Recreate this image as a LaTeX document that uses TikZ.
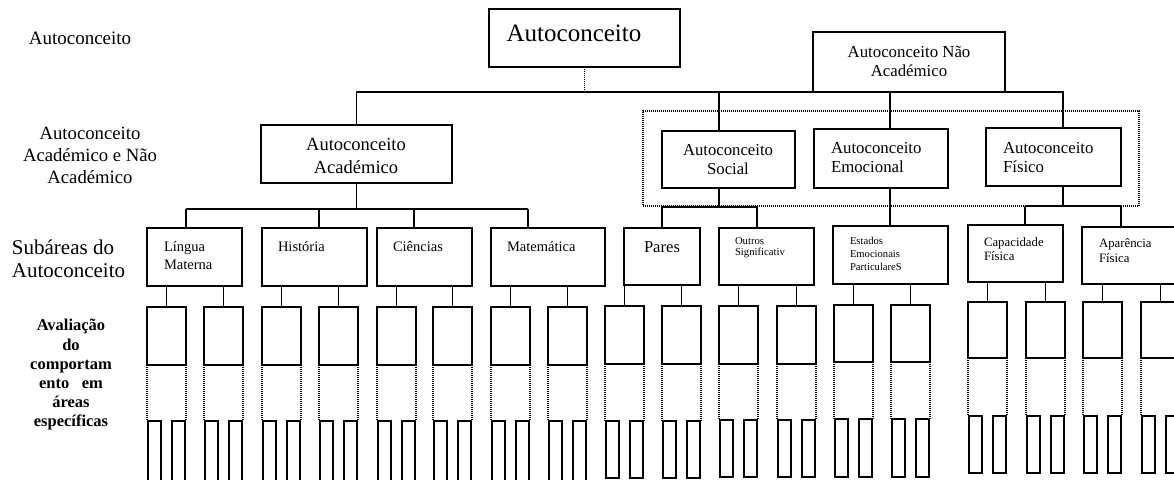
\documentclass[tikz,border=0pt]{standalone}
\usepackage{fontspec}
\setmainfont{Liberation Serif}
\usetikzlibrary{fit,calc}
\newcommand{\fsz}[2]{\fontsize{#1}{#2}\selectfont}
\tikzset{
  box/.style={draw, line width=1.2pt, inner sep=0pt, outer sep=0pt},
  dotbox/.style={draw, line width=1.1pt, dash pattern=on 1pt off 1pt, inner sep=0pt, outer sep=0pt},
  conn/.style={line width=1.2pt},
  dotline/.style={line width=1.1pt, dash pattern=on 1pt off 1pt},
  txt/.style={inner sep=0pt, outer sep=0pt},
}
\begin{document}
\begin{tikzpicture}[x=1pt,y=-1pt]
\fill[white] (0,0) rectangle (1174,479);
\useasboundingbox (0,0) rectangle (1174,479);
\clip (0,0) rectangle (1174,479);

% left-hand labels
\node[txt, font=\fsz{19}{22}] (lab1) at (80,38) {Autoconceito};
\node[txt, font=\fsz{18.7}{22}, align=center] (lab2) at (90,155) {Autoconceito\\Académico e Não\\Académico};
\node[txt, font=\fsz{21}{23}, align=left, anchor=west] (lab3) at (12,258.5) {Subáreas do\\Autoconceito};
\node[txt, font=\fsz{16.5}{19.2}\bfseries, align=center] (lab4) at (71,375) {Avaliação\\do\\comportam\\ento\ \ \ em\\áreas\\específicas};

% level boxes
\node[box, fit={(489,9) (680,67)}] (top) {};
\node[txt, font=\fsz{25}{28}] (ttop) at (574,33) {Autoconceito};
\node[box, fit={(813,32) (1005,92)}] (nao) {};
\node[txt, font=\fsz{16.8}{19}, align=center] (tnao) at (909,61.5) {Autoconceito Não\\Académico};
\node[box, fit={(261,125) (452,183)}] (acad) {};
\node[txt, font=\fsz{18.5}{23}, align=center] (tacad) at (356,156) {Autoconceito\\Académico};
\node[dotbox, fit={(643,111) (1139,206)}] (grp) {};
\node[box, fit={(662,131) (795,188)}] (soc) {};
\node[txt, font=\fsz{16.7}{19}, align=center] (tsoc) at (728,159.5) {Autoconceito\\Social};
\node[box, fit={(814,129) (948,188)}] (emo) {};
\node[txt, font=\fsz{16.8}{19}, align=left, anchor=west] (temo) at (831,157.5) {Autoconceito\\Emocional};
\node[box, fit={(986,128) (1121,186)}] (fis) {};
\node[txt, font=\fsz{16.8}{19}, align=left, anchor=west] (tfis) at (1003,157.5) {Autoconceito\\Físico};

% connectors upper part
\draw[dotline] (top.south) -- (top.south |- nao.south);
\draw[conn] (acad.north) |- (nao.south west);
\coordinate (fisIn) at (1063,128);
\draw[conn] (nao.south east) -| (fisIn);
\coordinate (socIn) at (719,131);
\draw[conn] (socIn) -- (socIn |- nao.south);
\coordinate (emoIn) at (890,129);
\draw[conn] (emoIn) -- (emoIn |- nao.south);

% sub-area boxes
\node[box, fit={(147,228) (242,286)}] (lingua) {};
\node[box, fit={(262,228) (367,286)}] (historia) {};
\node[box, fit={(377,228) (472,286)}] (ciencias) {};
\node[box, fit={(491,228) (605,286)}] (matematica) {};
\node[box, fit={(624,228) (700,285)}] (pares) {};
\node[box, fit={(719,228) (814,285)}] (outros) {};
\node[box, fit={(833,226) (948,284)}] (estados) {};
\node[box, fit={(968,225) (1063,282)}] (capacidade) {};
\node[box, fit={(1082,227) (1190,284)}] (aparencia) {};

\node[txt, font=\fsz{14.5}{18}, align=left, anchor=west] (tlingua) at (164,256) {Língua\\Materna};
\node[txt, font=\fsz{14.5}{18}, anchor=west] (thist) at (278,247) {História};
\node[txt, font=\fsz{14.5}{18}, anchor=west] (tcien) at (393,247) {Ciências};
\node[txt, font=\fsz{14.5}{18}, anchor=west] (tmat) at (507,247) {Matemática};
\node[txt, font=\fsz{16.6}{19}, anchor=west] (tpares) at (644,247) {Pares};
\node[txt, font=\fsz{10.7}{11.5}, align=left, anchor=west] (toutros) at (735,247.5) {Outros\\Significativ};
\node[txt, font=\fsz{10.6}{13}, align=left, anchor=west] (testados) at (850,254) {Estados\\Emocionais\\ParticulareS};
\node[txt, font=\fsz{12.8}{14.5}, align=left, anchor=west] (tcap) at (984,249) {Capacidade\\Física};
\node[txt, font=\fsz{12.8}{15}, align=left, anchor=west] (tapa) at (1099,250.5) {Aparência\\Física};

% branches to sub-areas
\coordinate (abL) at (186,209);
\coordinate (abR) at (528,209);
\draw[conn] (acad.south) -- (acad.south |- abL);
\draw[conn] (abL) -- (abR);
\foreach \n/\x in {lingua/186, historia/319, ciencias/414, matematica/528}{
  \coordinate (d-\n) at (\x,228);
  \draw[conn] (d-\n) -- (d-\n |- abL);
}
\coordinate (socOut) at (719,188);
\coordinate (sbL) at (662,207);
\coordinate (sbR) at (757,207);
\draw[conn] (socOut) -- (socOut |- sbL);
\draw[conn] (sbL) -- (sbR);
\coordinate (d-pares) at (662,228);
\coordinate (d-outros) at (757,228);
\draw[conn] (d-pares) -- (sbL);
\draw[conn] (d-outros) -- (sbR);
\coordinate (emoOut) at (890,188);
\draw[conn] (emoOut) -- (emoOut |- estados.north);
\coordinate (fisOut) at (1063,186);
\coordinate (fbL) at (1025,206);
\coordinate (fbR) at (1121,206);
\draw[conn] (fisOut) -- (fisOut |- fbL);
\draw[conn] (fbL) -- (fbR);
\coordinate (d-cap) at (1025,225);
\coordinate (d-apa) at (1121,227);
\draw[conn] (d-cap) -- (fbL);
\draw[conn] (d-apa) -- (fbR);

% evaluation squares and specific areas
\foreach \n/\aa/\ab/\sy/\sb/\tt/\tb in {
  lingua/147/204/307/365/421/490,
  historia/262/319/307/365/421/490,
  ciencias/377/433/307/365/421/490,
  matematica/491/548/307/365/421/490,
  pares/605/662/306/364/421/478,
  outros/719/777/306/364/420/477,
  estados/834/891/305/362/419/477,
  capacidade/968/1026/302/358/416/473,
  aparencia/1083/1141/302/358/416/473}{
  \foreach \i/\a in {1/\aa, 2/\ab}{
    \node[box, fit={(\a,\sy) (\a+39,\sb)}] (sq-\n-\i) {};
    \node[box, fit={(\a+1,\tt) (\a+14,\tb)}] (th-\n-\i-1) {};
    \node[box, fit={(\a+25,\tt) (\a+38,\tb)}] (th-\n-\i-2) {};
    \draw[conn] (sq-\n-\i.north) -- (sq-\n-\i.north |- \n.south);
    \draw[dotline] (sq-\n-\i.south west) -- (sq-\n-\i.south west |- th-\n-\i-1.north);
    \draw[dotline] (sq-\n-\i.south east) -- (sq-\n-\i.south east |- th-\n-\i-2.north);
  }
}
\end{tikzpicture}
\end{document}
